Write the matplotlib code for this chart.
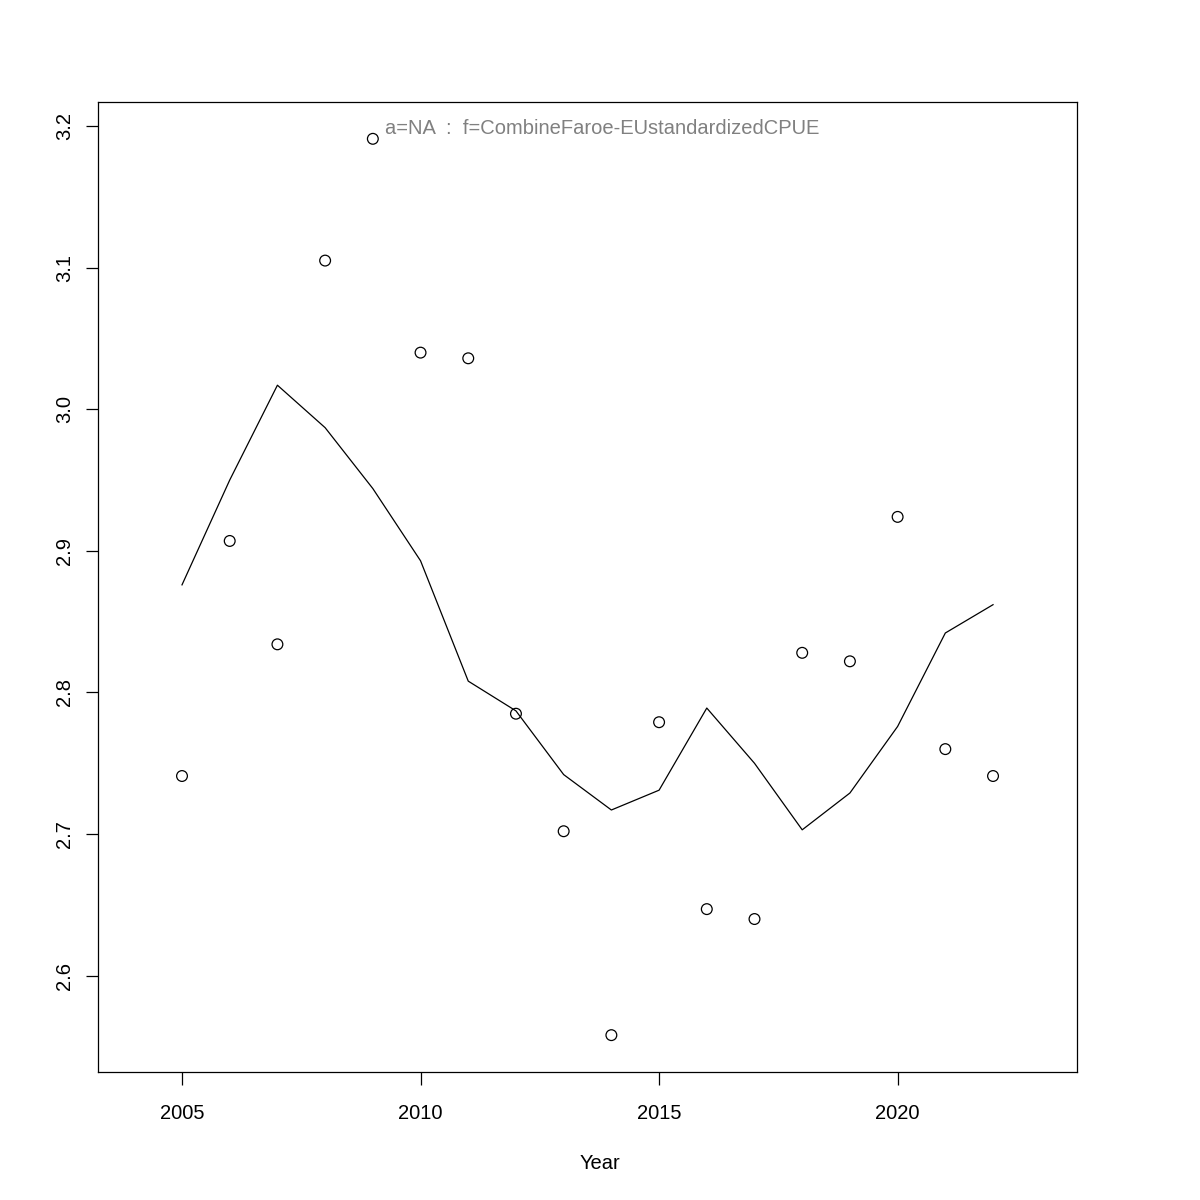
import matplotlib
matplotlib.use("Agg")
import matplotlib.pyplot as plt

plt.rcParams["font.family"] = ["Liberation Sans", "DejaVu Sans"]

# observed index values
years = [2005, 2006, 2007, 2008, 2009, 2010, 2011, 2012, 2013,
         2014, 2015, 2016, 2017, 2018, 2019, 2020, 2021, 2022]
observed = [2.741, 2.907, 2.834, 3.105, 3.191, 3.040, 3.036, 2.785, 2.702,
            2.558, 2.779, 2.647, 2.640, 2.828, 2.822, 2.924, 2.760, 2.741]
# fitted line
fitted = [2.876, 2.950, 3.017, 2.987, 2.944, 2.893, 2.808, 2.787, 2.742,
          2.717, 2.731, 2.789, 2.750, 2.703, 2.729, 2.776, 2.842, 2.862]

x_ticks = [2005, 2010, 2015, 2020]
y_ticks = [2.6, 2.7, 2.8, 2.9, 3.0, 3.1, 3.2]
label = "a=NA  :  f=CombineFaroe-EUstandardizedCPUE"

fig = plt.figure(figsize=(12, 12), dpi=100)
ax = fig.add_axes([0.0817, 0.1067, 0.8158, 0.8083])

ax.scatter(years, observed, s=60, facecolors="none", edgecolors="black", linewidths=0.9)
ax.plot(years, fitted, color="black", linewidth=0.9)

ax.set_xlim(2003.24, 2023.76)
ax.set_ylim(2.532, 3.217)
ax.set_xticks(x_ticks)
ax.set_yticks(y_ticks)
ax.set_xticklabels([str(v) for v in x_ticks])
ax.set_yticklabels([f"{v:.1f}" for v in y_ticks], rotation=90, va="center")
ax.tick_params(axis="x", labelsize=14.5, length=9, width=0.9, pad=14)
ax.tick_params(axis="y", labelsize=14.5, length=9, width=0.9, pad=8)

for sp in ax.spines.values():
    sp.set_linewidth(0.9)

ax.set_xlabel("Year", fontsize=14.5)
ax.xaxis.set_label_coords(0.513, -0.085)

ax.text(0.515, 0.973, label, transform=ax.transAxes, ha="center", va="center",
        fontsize=14.5, color="#808080")

fig.savefig("out.png", dpi=100)
